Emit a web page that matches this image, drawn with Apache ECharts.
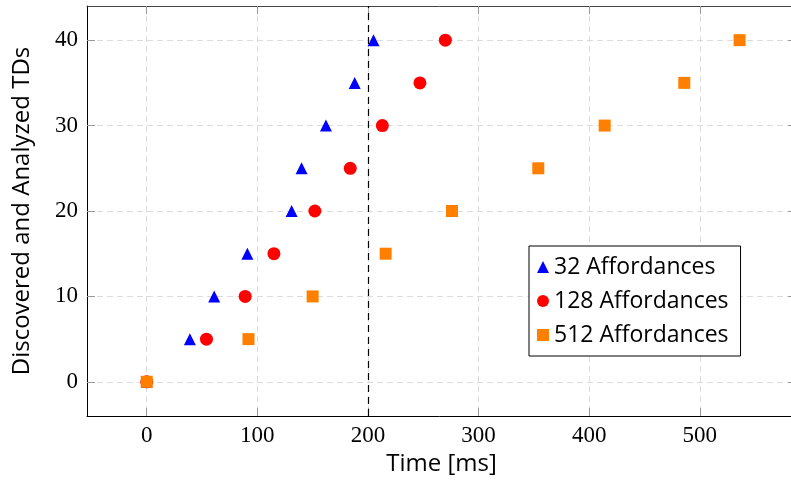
<!DOCTYPE html>
<html>
<head>
<meta charset="utf-8">
<script src="https://cdn.jsdelivr.net/npm/echarts@6/dist/echarts.min.js"></script>
<style>
  html, body { margin: 0; padding: 0; background: #fff; }
  #chart { width: 791px; height: 488px; }
</style>
</head>
<body>
<div id="chart"></div>
<script>
// data: [time ms, TDs]
const tdCounts = [0, 5, 10, 15, 20, 25, 30, 35, 40]
const times32 = [0, 39, 61, 91, 131, 140, 162, 188, 205]
const times128 = [0, 54, 89, 115, 152, 184, 213, 247, 270]
const times512 = [0, 92, 150, 216, 276, 354, 414, 486, 536]
const xTicks = [0, 100, 200, 300, 400, 500]
const yTicks = [0, 10, 20, 30, 40]
const cutoffTime = 200

const toPoints = (times) => times.map((t, i) => [t, tdCounts[i]])

const sansFont = 'Open Sans'
const serifFont = 'Liberation Serif'

const chart = echarts.init(document.getElementById('chart'))

// pgfplots style frame: ticks inside on every side
const gridLine = {
  show: true,
  lineStyle: { color: '#dcdcdc', type: [6, 4], width: 1 }
}

const option = {
  animation: false,
  backgroundColor: '#fff',
  // the right border lies just past the canvas, as in the original
  grid: { left: 87, top: 6, width: 709, height: 410, outerBoundsMode: 'none' },
  legend: {
    orient: 'vertical',
    left: 529,
    top: 246,
    padding: [9, 12, 9, 8],
    itemGap: 10,
    itemWidth: 12,
    itemHeight: 12,
    borderColor: '#000',
    borderWidth: 1,
    backgroundColor: '#fff',
    textStyle: { fontFamily: sansFont, fontSize: 23, lineHeight: 24, color: '#000' },
    data: [
      { name: '32 Affordances', icon: 'triangle' },
      { name: '128 Affordances', icon: 'circle' },
      { name: '512 Affordances', icon: 'rect' }
    ]
  },
  xAxis: [
    {
      type: 'value',
      min: -54,
      max: 587,
      name: 'Time [ms]',
      nameLocation: 'middle',
      nameGap: 33,
      nameTextStyle: { fontFamily: sansFont, fontSize: 24, color: '#000' },
      axisLine: { show: true, onZero: false, lineStyle: { color: '#000', width: 1 } },
      axisTick: { show: true, inside: true, length: 8, customValues: xTicks, lineStyle: { color: '#999' } },
      axisLabel: { customValues: xTicks, margin: 8, fontFamily: serifFont, fontSize: 23, color: '#000' },
      splitLine: gridLine
    },
    {
      type: 'value',
      position: 'top',
      min: -54,
      max: 587,
      axisLine: { show: true, onZero: false, lineStyle: { color: '#444', width: 1 } },
      axisTick: { show: true, inside: true, length: 8, customValues: xTicks, lineStyle: { color: '#999' } },
      axisLabel: { show: false },
      splitLine: { show: false }
    }
  ],
  yAxis: [
    {
      type: 'value',
      min: -4,
      max: 44,
      name: 'Discovered and Analyzed TDs',
      nameLocation: 'middle',
      nameGap: 53,
      nameTextStyle: { fontFamily: sansFont, fontSize: 24, color: '#000' },
      axisLine: { show: true, onZero: false, lineStyle: { color: '#000', width: 1 } },
      axisTick: { show: true, inside: true, length: 8, customValues: yTicks, lineStyle: { color: '#999' } },
      axisLabel: { customValues: yTicks, margin: 9, fontFamily: serifFont, fontSize: 23, color: '#000' },
      splitLine: gridLine
    },
    {
      type: 'value',
      position: 'right',
      min: -4,
      max: 44,
      axisLine: { show: true, onZero: false, lineStyle: { color: '#444', width: 1 } },
      axisTick: { show: true, inside: true, length: 8, customValues: yTicks, lineStyle: { color: '#999' } },
      axisLabel: { show: false },
      splitLine: { show: false }
    }
  ],
  series: [
    {
      name: '32 Affordances',
      type: 'scatter',
      symbol: 'triangle',
      symbolSize: 12,
      itemStyle: { color: '#0000ff', opacity: 1 },
      data: toPoints(times32),
      markLine: {
        silent: true,
        symbol: 'none',
        label: { show: false },
        lineStyle: { color: '#000', type: [7, 5], width: 1.2 },
        data: [{ xAxis: cutoffTime }]
      }
    },
    {
      name: '128 Affordances',
      type: 'scatter',
      symbol: 'circle',
      symbolSize: 13,
      itemStyle: { color: '#ff0000', opacity: 1 },
      data: toPoints(times128)
    },
    {
      name: '512 Affordances',
      type: 'scatter',
      symbol: 'rect',
      symbolSize: 12,
      itemStyle: { color: '#ff8000', opacity: 1 },
      data: toPoints(times512)
    }
  ]
}

chart.setOption(option)
</script>
</body>
</html>
